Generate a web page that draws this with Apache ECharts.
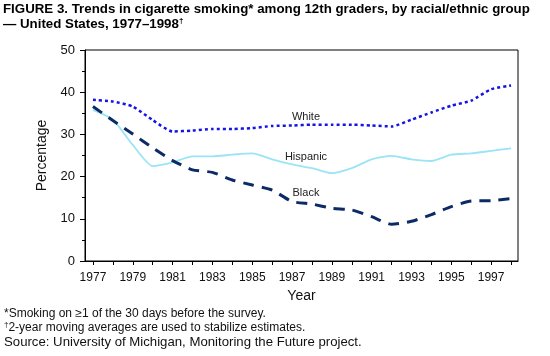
<!DOCTYPE html>
<html><head><meta charset="utf-8">
<script src="https://cdn.jsdelivr.net/npm/echarts@6/dist/echarts.min.js"></script>
<style>html,body{margin:0;padding:0;background:#fff}#c{width:550px;height:356px}</style>
</head><body><div id="c"></div>
<script>
var years = [1977,1978,1979,1980,1981,1982,1983,1984,1985,1986,1987,1988,1989,1990,1991,1992,1993,1994,1995,1996,1997,1998];
var white = [38.2,37.8,36.6,33.4,30.7,30.9,31.3,31.3,31.5,32.0,32.1,32.3,32.3,32.3,32.1,31.9,33.5,35.2,36.8,38.0,40.7,41.6];
var hispanic = [35.8,33.5,27.5,22.5,23.4,24.8,24.8,25.2,25.5,24.1,22.9,22.0,20.8,22.0,24.1,24.9,24.1,23.7,25.2,25.5,26.1,26.7];
var black = [36.6,33.3,30.1,26.8,23.8,21.6,21.0,19.2,18.0,16.8,14.1,13.5,12.5,12.1,10.5,8.7,9.4,11.0,12.9,14.2,14.3,14.8];
var tickYears = years;
var labelYears = [1977,1979,1981,1983,1985,1987,1989,1991,1993,1995,1997];
var yTicks = [0,10,20,30,40,50];
var seriesNames = ['White','Hispanic','Black'];
var labelPos = [[1987.7,34.2],[1987.7,24.75],[1987.7,16.1]];

function pairs(v){ return years.map(function(y,i){ return [y, v[i]]; }); }
var font = '"Liberation Sans", Arial, Helvetica, sans-serif';
function lbl(i){
  return { symbol:'rect', symbolSize:1, silent:true, itemStyle:{color:'rgba(0,0,0,0)'},
    label:{show:true, position:'inside', formatter: seriesNames[i], color:'#222', fontSize:11, fontFamily:font},
    data:[{coord: labelPos[i]}] };
}
var chart = echarts.init(document.getElementById('c'));
chart.setOption({
  animation:false,
  backgroundColor:'#fff',
  grid:{left:85, right:32, top:50, bottom:95, show:true, borderColor:'#000', borderWidth:1, backgroundColor:'transparent'},
  xAxis:{type:'value', min:1976.6, max:1998.35,
    name:'Year', nameLocation:'middle', nameGap:27, nameTextStyle:{fontSize:14, color:'#111', fontFamily:font},
    axisLine:{show:true, lineStyle:{color:'#000', width:1}},
    axisTick:{show:true, length:4, lineStyle:{color:'#000'}, customValues: tickYears},
    axisLabel:{customValues: labelYears, fontSize:12, color:'#111', fontFamily:font, margin:11, formatter:function(v){return String(v);}},
    splitLine:{show:false}},
  yAxis:{type:'value', min:0, max:50, interval:10,
    name:'Percentage', nameLocation:'middle', nameGap:23, nameRotate:90, nameTextStyle:{fontSize:14, color:'#111', fontFamily:font},
    axisLine:{show:true, lineStyle:{color:'#000', width:1}},
    axisTick:{show:true, length:5, lineStyle:{color:'#000'}},
    minorTick:{show:true, splitNumber:2, length:3, lineStyle:{color:'#000'}},
    axisLabel:{customValues: yTicks, fontSize:13, color:'#111', fontFamily:font, margin:10},
    splitLine:{show:false}},
  series:[
    {name:'White', type:'line', data:pairs(white), symbol:'none', smooth:0.2,
      lineStyle:{color:'#1414e6', width:2.5, type:[3,3]}, markPoint:lbl(0)},
    {name:'Hispanic', type:'line', data:pairs(hispanic), symbol:'none', smooth:0.2,
      lineStyle:{color:'#9ae4f6', width:1.8}, markPoint:lbl(1)},
    {name:'Black', type:'line', data:pairs(black), symbol:'none', smooth:0.2,
      lineStyle:{color:'#0b2a66', width:3, type:[11,8]}, markPoint:lbl(2)}
  ],
  graphic:[
    {type:'text', left:3, top:3, style:{text:'FIGURE 3. Trends in cigarette smoking* among 12th graders, by racial/ethnic group', font:'bold 13.3px '+font, fill:'#000'}},
    {type:'text', left:3, top:17, style:{text:'— United States, 1977–1998{s|†}', font:'bold 13.3px '+font, fill:'#000',
      rich:{s:{fontSize:8, fontWeight:'bold', verticalAlign:'top', padding:[0,0,6,0], fontFamily:font}}}},
    {type:'text', left:4, top:308, style:{text:'*Smoking on ≥1 of the 30 days before the survey.', font:'12px '+font, fill:'#111'}},
    {type:'text', left:4, top:321, style:{text:'{s|†}2-year moving averages are used to stabilize estimates.', font:'12px '+font, fill:'#111',
      rich:{s:{fontSize:8, padding:[0,0,5,0], fontFamily:font}}}},
    {type:'text', left:4, top:336, style:{text:'Source: University of Michigan, Monitoring the Future project.', font:'13.2px '+font, fill:'#111'}}
  ]
});
</script></body></html>
